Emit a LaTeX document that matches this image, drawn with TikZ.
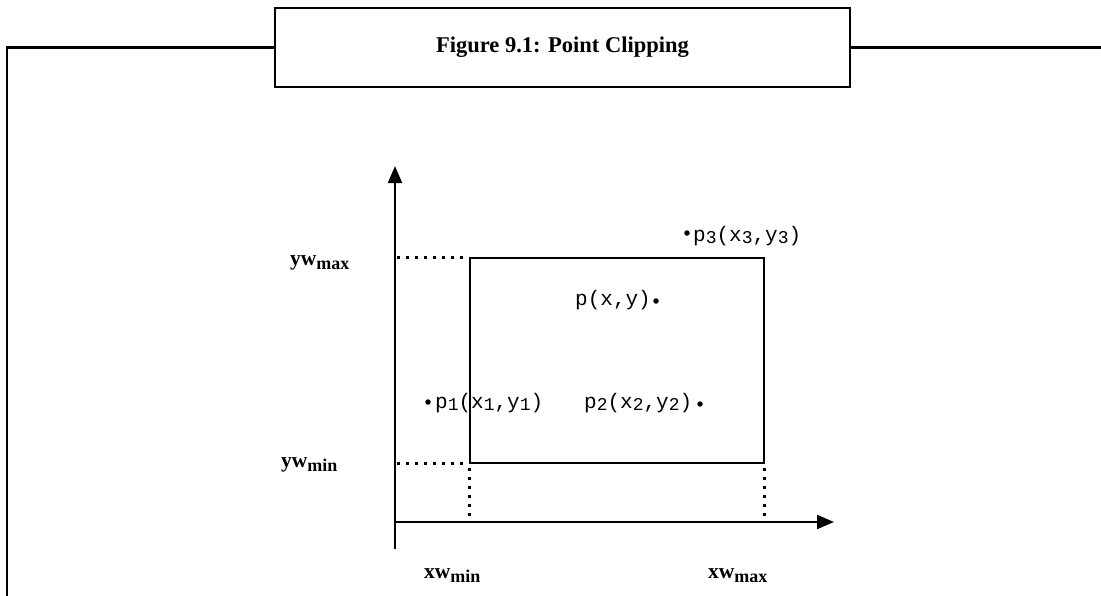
\documentclass[tikz,border=0pt]{standalone}
\usepackage{fontspec}
\setmainfont{Liberation Serif}
\newfontfamily\monof{Liberation Mono}
\usetikzlibrary{arrows.meta}
\newcommand{\sbs}[1]{\raisebox{-2.5pt}{\fontsize{18}{18}\selectfont #1}}
\newcommand{\wsub}[1]{\raisebox{-4pt}{\fontsize{18}{18}\selectfont #1}}
\begin{document}
\begin{tikzpicture}[x=1pt,y=-1pt,
  frameline/.style={line width=2.4pt,line cap=rect},
  axisline/.style={line width=2pt,-{Triangle[length=17pt,width=14pt]}},
  winline/.style={line width=2pt},
  dotline/.style={line width=3pt,dash pattern=on 3pt off 6pt},
  ptdot/.style={circle,fill=black,inner sep=0pt,minimum size=5.5pt},
  ptlabel/.style={font=\monof\fontsize{21}{21}\selectfont,inner sep=0pt,anchor=base west},
  wlabel/.style={font=\bfseries\fontsize{21.5}{21.5}\selectfont,inner sep=0pt,anchor=base west}]
\useasboundingbox (0,0) rectangle (1101,595);
% title box and frame
\node[draw,line width=2.4pt,minimum width=575pt,minimum height=79pt,inner sep=0pt,
  font=\bfseries\fontsize{22.5}{22.5}\selectfont] (title) at (562.5,47.5) {Figure 9.1: Point Clipping};
\coordinate (fl) at (7,47.5);
\coordinate (fb) at (7,600);
\coordinate (fr) at (1105,47.5);
\draw[frameline] (title.west) -- (fl) -- (fb);
\draw[frameline] (title.east) -- (fr);
% axes
\coordinate (ob) at (395,549);
\coordinate (yt) at (395,166);
\coordinate (xs) at (395,522);
\coordinate (xt) at (834,522);
\draw[axisline] (ob) -- (yt);
\draw[axisline] (xs) -- (xt);
% window
\coordinate (wa) at (469.5,463);
\coordinate (wb) at (764,257.5);
\draw[winline] (wa) rectangle (wb);
% dotted guides
\coordinate (ymaxa) at (397,257.5);
\coordinate (ymaxb) at (466,257.5);
\coordinate (ymina) at (397,463);
\coordinate (yminb) at (466,463);
\coordinate (xmina) at (469.5,468);
\coordinate (xminb) at (469.5,522);
\coordinate (xmaxa) at (764,468);
\coordinate (xmaxb) at (764,522);
\draw[dotline] (ymaxa) -- (ymaxb);
\draw[dotline] (ymina) -- (yminb);
\draw[dotline] (xmina) -- (xminb);
\draw[dotline] (xmaxa) -- (xmaxb);
% axis labels
\node[wlabel] (lymax) at (290,265) {yw\wsub{max}};
\node[wlabel] (lymin) at (281,467) {yw\wsub{min}};
\node[wlabel] (lxmin) at (424,578) {xw\wsub{min}};
\node[wlabel] (lxmax) at (708,578) {xw\wsub{max}};
% points
\node[ptdot] (d1) at (428,402) {};
\node[ptlabel] (t1) at (435,408) {p\sbs{1}(x\sbs{1},y\sbs{1})};
\node[ptdot] (d2) at (700,404) {};
\node[ptlabel] (t2) at (584,408) {p\sbs{2}(x\sbs{2},y\sbs{2})};
\node[ptdot] (d0) at (656,301) {};
\node[ptlabel] (t0) at (575,305) {p(x,y)};
\node[ptdot] (d3) at (687,233) {};
\node[ptlabel] (t3) at (693,241) {p\sbs{3}(x\sbs{3},y\sbs{3})};
\end{tikzpicture}
\end{document}
